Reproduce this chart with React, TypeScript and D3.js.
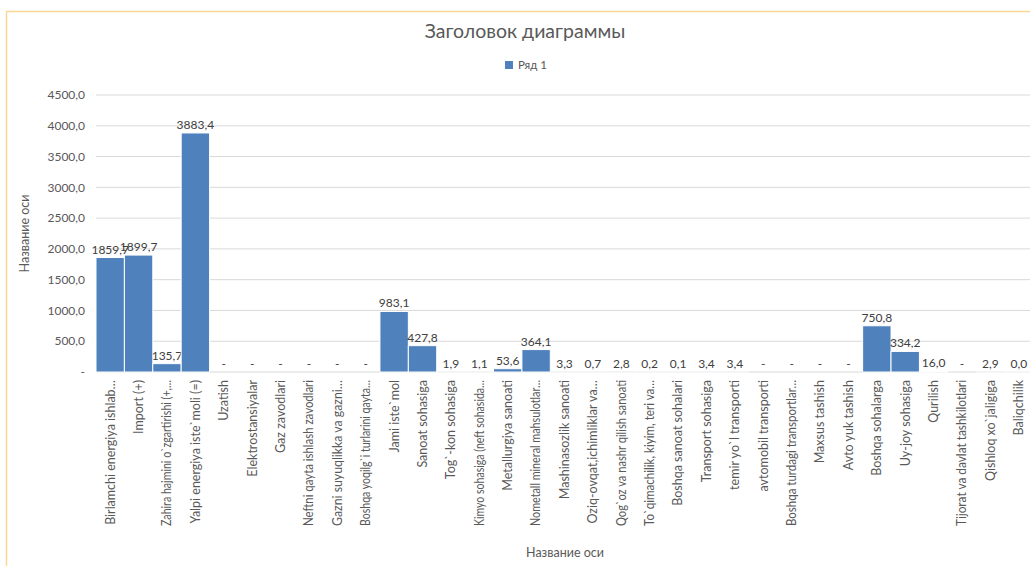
import React from 'react';
import * as d3 from 'd3';

const categories = [
  'Birlamchi energiya ishlab…',
  'Import (+)',
  'Zahira hajmini o`zgartirishi (+,…',
  'Yalpi energiya iste`moli (=)',
  'Uzatish',
  'Elektrostansiyalar',
  'Gaz zavodlari',
  'Neftni qayta ishlash zavodlari',
  'Gazni suyuqlikka va gazni…',
  'Boshqa yoqilg`i turlarini qayta…',
  'Jami iste`mol',
  'Sanoat sohasiga',
  'Tog`-kon sohasiga',
  'Kimyo sohasiga (neft sohasida…',
  'Metallurgiya sanoati',
  'Nometall mineral mahsulotlar…',
  'Mashinasozlik sanoati',
  'Oziq-ovqat,ichimliklar va…',
  'Qog`oz va nashr qilish sanoati',
  'To`qimachilik, kiyim, teri va…',
  'Boshqa sanoat sohalari',
  'Transport sohasiga',
  'temir yo`l transporti',
  'avtomobil transporti',
  'Boshqa turdagi transportlar…',
  'Maxsus tashish',
  'Avto yuk tashish',
  'Boshqa sohalarga',
  'Uy-joy sohasiga',
  'Qurilish',
  'Tijorat va davlat tashkilotlari',
  'Qishloq xo`jaligiga',
  'Baliqchilik',
];

const values = [
  1859.7, 1899.7, 135.7, 3883.4, 0, 0, 0, 0, 0, 0, 983.1, 427.8, 1.9, 1.1, 53.6, 364.1,
  3.3, 0.7, 2.8, 0.2, 0.1, 3.4, 3.4, 0, 0, 0, 0, 750.8, 334.2, 16.0, 0, 2.9, 0.01,
];

const yTicks = [0, 500, 1000, 1500, 2000, 2500, 3000, 3500, 4000, 4500];

const title = 'Заголовок диаграммы';
const seriesName = 'Ряд 1';
const axisTitle = 'Название оси';

// excel accounting style: zero shows as a dash
const fmt = (v: number) => (v === 0 ? '-' : v.toFixed(1).replace('.', ','));

const FONT = 'Lato, "Open Sans", sans-serif';
const BAR = '#4f81bd';
const TEXT = '#595959';
const LABEL_SIZE = 12.5;
const LABEL_MAX = 146;

let ctx: CanvasRenderingContext2D | null = null;
const measure = (s: string, size: number) => {
  if (!ctx) ctx = document.createElement('canvas').getContext('2d');
  if (!ctx) return 0;
  ctx.font = `${size}px Lato`;
  return ctx.measureText(s).width;
};

export default function App() {
  const width = 1030;
  const height = 566;
  const left = 96;
  const right = 1033;
  const top = 95;
  const bottom = 372;

  const x = d3.scaleBand<string>().domain(categories).range([left, right]).padding(0);
  const y = d3.scaleLinear().domain([0, 4500]).range([bottom, top]);

  return (
    <svg
      width={width}
      height={height}
      style={{ position: 'absolute', left: 0, top: 0, background: '#fff' }}
      fontFamily={FONT}
    >
      <rect x={6.5} y={11.5} width={1040} height={600} fill="#fff" stroke="#fcd597" strokeWidth={1.5} />

      <text x={525} y={38} textAnchor="middle" fontSize={19.5} fill={TEXT}>
        {title}
      </text>

      <rect x={505} y={61} width={8} height={8} fill={BAR} />
      <text x={518} y={69} fontSize={11.5} fill={TEXT}>
        {seriesName}
      </text>

      {yTicks.map(t => (
        <g key={t}>
          <line x1={left} x2={right} y1={y(t)} y2={y(t)} stroke="#d9d9d9" strokeWidth={1} />
          <text x={85} y={y(t)} dy="0.35em" textAnchor="end" fontSize={12} fill={TEXT}>
            {fmt(t)}
          </text>
        </g>
      ))}

      {categories.map((c, i) => {
        const v = values[i];
        const bx = x(c)!;
        const bw = x.bandwidth();
        const w = measure(c, LABEL_SIZE);
        return (
          <g key={c}>
            {v > 0 && (
              <rect
                x={bx}
                y={y(v)}
                width={bw}
                height={bottom - y(v)}
                fill={BAR}
                stroke="#fff"
                strokeWidth={1}
              />
            )}
            <text
              x={bx + bw / 2}
              y={y(v) - 4}
              textAnchor="middle"
              fontSize={12}
              fill="#404040"
            >
              {fmt(v)}
            </text>
            <text
              transform={`translate(${bx + bw / 2},${bottom + 8}) rotate(-90)`}
              dy="0.35em"
              textAnchor="end"
              fontSize={LABEL_SIZE}
              fill={TEXT}
              textLength={w > LABEL_MAX ? LABEL_MAX : undefined}
              lengthAdjust="spacingAndGlyphs"
            >
              {c}
            </text>
          </g>
        );
      })}

      <text
        transform={`translate(29,${(top + bottom) / 2}) rotate(-90)`}
        textAnchor="middle"
        fontSize={12.5}
        fill={TEXT}
      >
        {axisTitle}
      </text>
      <text x={565} y={557} textAnchor="middle" fontSize={12.5} fill={TEXT}>
        {axisTitle}
      </text>
    </svg>
  );
}
